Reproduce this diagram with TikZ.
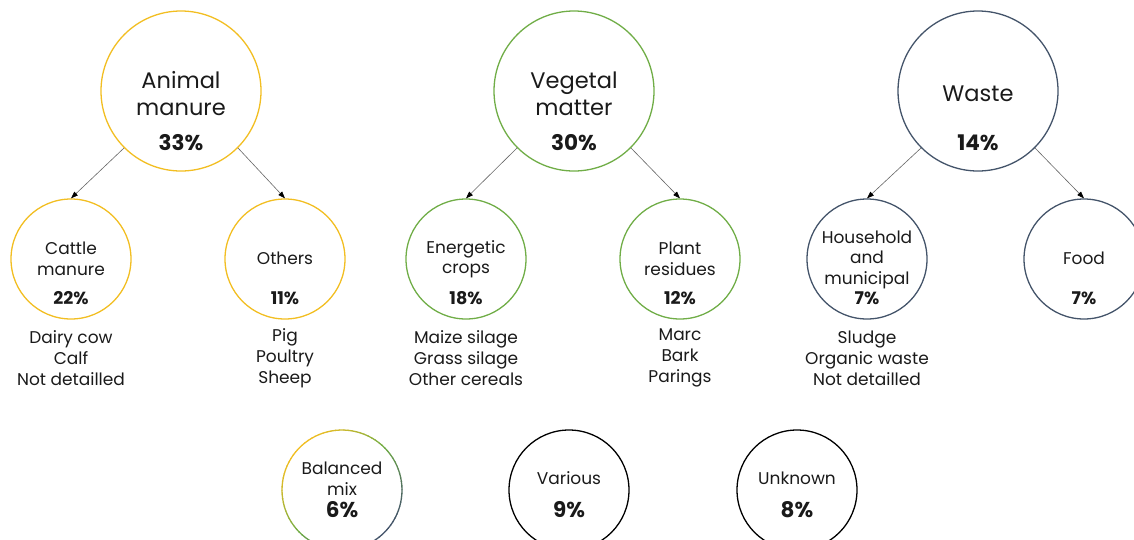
\documentclass[tikz,border=0pt]{standalone}
\usepackage{fontspec}
\setmainfont{Poppins}
\usetikzlibrary{arrows.meta}
\definecolor{amber}{HTML}{F2BE22}
\definecolor{leaf}{HTML}{70AD47}
\definecolor{slate}{HTML}{44546A}
\definecolor{ink}{HTML}{1A1A1A}
\begin{document}
\begin{tikzpicture}[x=1pt,y=-1pt,
  big/.style={circle,draw,line width=1.3pt,minimum size=160pt,inner sep=0pt},
  small/.style={circle,draw,line width=1.3pt,minimum size=120pt,inner sep=0pt},
  tbig/.style={text=ink,font=\fontsize{22.5}{27}\selectfont,align=center,inner sep=0pt},
  pbig/.style={text=ink,font=\fontsize{21.5}{24}\selectfont\bfseries,inner sep=0pt},
  tsmall/.style={text=ink,font=\fontsize{17}{20.5}\selectfont,align=center,inner sep=0pt},
  psmall/.style={text=ink,font=\fontsize{17.5}{20}\selectfont\bfseries,inner sep=0pt},
  list/.style={text=ink,font=\fontsize{17}{21}\selectfont,align=center,inner sep=0pt},
  link/.style={draw=black!60,line width=0.6pt,-{Triangle[length=7pt,width=5pt,black]}}]
\path[use as bounding box,clip] (0,0) rectangle (1134,539);

% big circles
\node[big,draw=amber] (am) at (181,91) {};
\node[big,draw=leaf] (vm) at (574,91) {};
\node[big,draw=slate] (ws) at (978,91) {};
\node[tbig] (amt) at (181,93.5) {Animal\\manure};
\node[pbig] (amp) at (181,143) {33\%};
\node[tbig] (vmt) at (574,93.5) {Vegetal\\matter};
\node[pbig] (vmp) at (574,143) {30\%};
\node[tbig] (wst) at (978,94) {Waste};
\node[pbig] (wsp) at (978,143) {14\%};

% small circles
\node[small,draw=amber] (cm) at (71,259) {};
\node[small,draw=amber] (ot) at (285,259) {};
\node[small,draw=leaf] (ec) at (466,259) {};
\node[small,draw=leaf] (pr) at (680,259) {};
\node[small,draw=slate] (hm) at (867,259) {};
\node[small,draw=slate] (fd) at (1084,259) {};

\node[tsmall] (cmt) at (71,259) {Cattle\\manure};
\node[psmall] (cmp) at (71,298) {22\%};
\node[tsmall] (ott) at (285,258) {Others};
\node[psmall] (otp) at (285,298) {11\%};
\node[tsmall] (ect) at (466,259) {Energetic\\crops};
\node[psmall] (ecp) at (466,298) {18\%};
\node[tsmall] (prt) at (680,259) {Plant\\residues};
\node[psmall] (prp) at (680,298) {12\%};
\node[tsmall] (hmt) at (867,259.5) {Household\\and\\municipal};
\node[psmall] (hmp) at (867,298) {7\%};
\node[tsmall] (fdt) at (1084,258) {Food};
\node[psmall] (fdp) at (1084,298) {7\%};

% lists
\node[list] (cml) at (71,358) {Dairy cow\\Calf\\Not detailled};
\node[list] (otl) at (285,358) {Pig\\Poultry\\Sheep};
\node[list] (ecl) at (466,358) {Maize silage\\Grass silage\\Other cereals};
\node[list] (prl) at (680,358) {Marc\\Bark\\Parings};
\node[list] (hml) at (867,358) {Sludge\\Organic waste\\Not detailled};

% arrows
\draw[link] (am.-135) -- (cm.north);
\draw[link] (am.-45) -- (ot.north);
\draw[link] (vm.-135) -- (ec.north);
\draw[link] (vm.-45) -- (pr.north);
\draw[link] (ws.-135) -- (hm.north);
\draw[link] (ws.-45) -- (fd.north);

% bottom circles
\node[circle,minimum size=120pt,inner sep=0pt] (bm) at (342,490) {};
\foreach \a in {0,4,...,356}{
  \pgfmathsetmacro\t{(1-cos(\a+2-135))/2}
  \pgfmathsetmacro\pa{min(100,200*\t)}
  \pgfmathsetmacro\pb{max(0,200*\t-100)}
  \colorlet{tmpc}{leaf!\pa!amber}
  \colorlet{ringc}{slate!\pb!tmpc}
  \draw[ringc,line width=1.3pt] ([shift={(\a:60pt)}]bm.center) arc[start angle=\a,delta angle=4.6,radius=60pt];
}
\node[small,draw=black] (va) at (569,490) {};
\node[small,draw=black] (uk) at (797,490) {};
\node[tsmall] (bmt) at (342,478.5) {Balanced\\mix};
\node[pbig] (bmp) at (342,510) {6\%};
\node[tsmall] (vat) at (569,478) {Various};
\node[pbig] (vap) at (569,510) {9\%};
\node[tsmall] (ukt) at (797,478) {Unknown};
\node[pbig] (ukp) at (797,510) {8\%};
\end{tikzpicture}
\end{document}
